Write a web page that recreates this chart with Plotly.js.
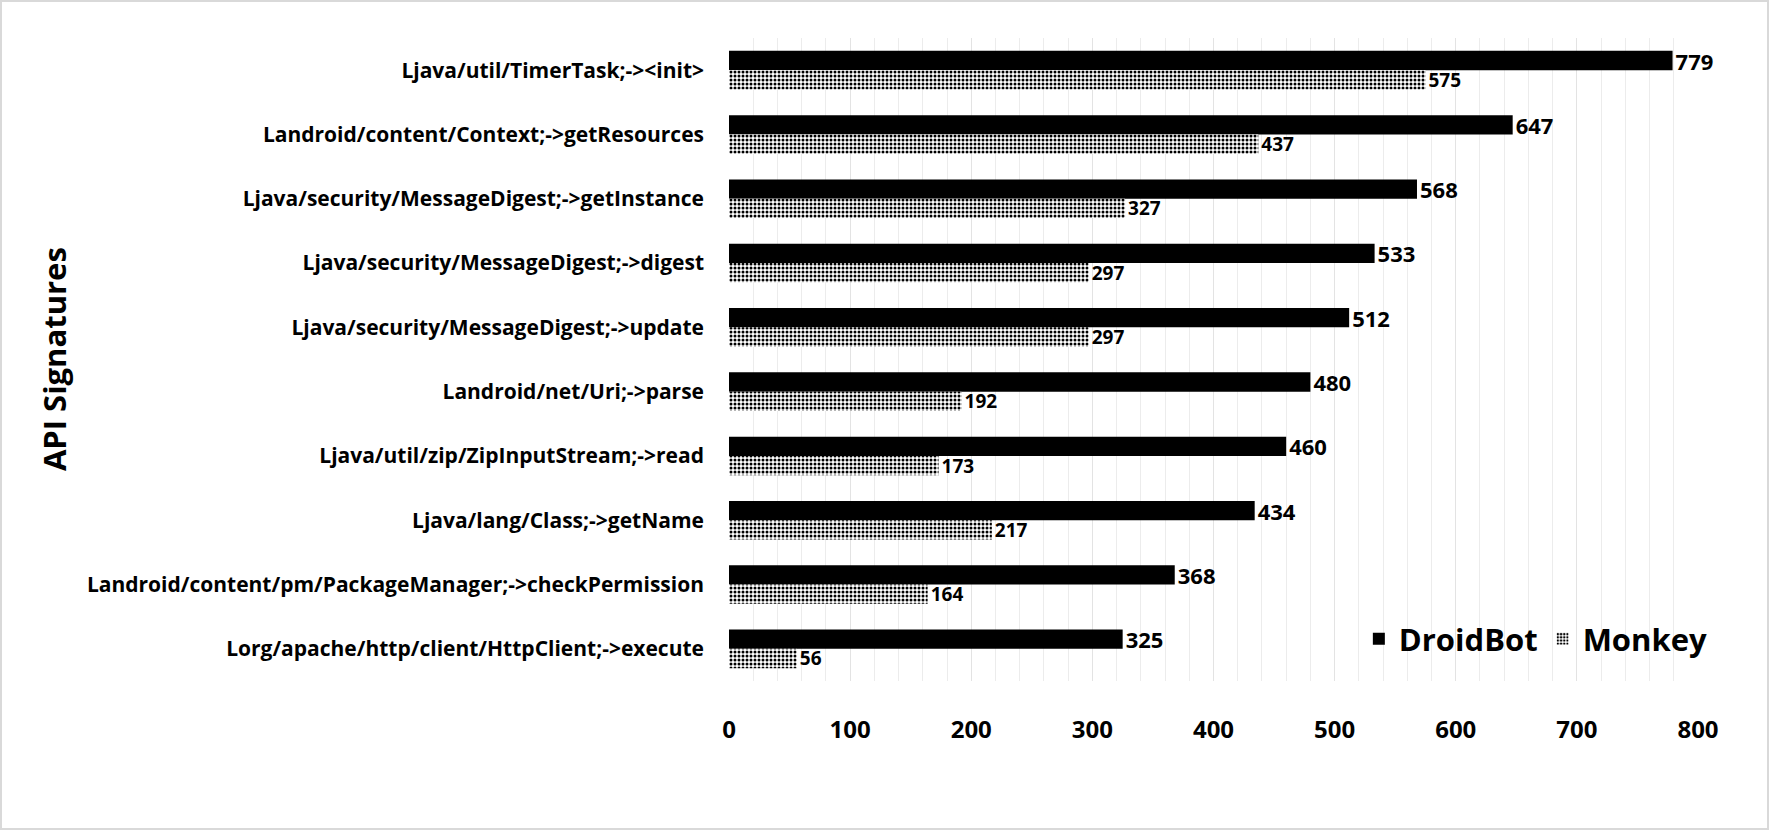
<!DOCTYPE html>
<html>
<head>
<meta charset="utf-8">
<script src="https://cdn.plot.ly/plotly-3.0.1.min.js"></script>
<style>
  html, body { margin: 0; padding: 0; background: #fff; }
  #chart { width: 1769px; height: 830px; box-sizing: border-box; border: 2px solid #d9d9d9; }
</style>
</head>
<body>
<div id="chart"></div>
<script>
const apis = [
  'Ljava/util/TimerTask;-><init>',
  'Landroid/content/Context;->getResources',
  'Ljava/security/MessageDigest;->getInstance',
  'Ljava/security/MessageDigest;->digest',
  'Ljava/security/MessageDigest;->update',
  'Landroid/net/Uri;->parse',
  'Ljava/util/zip/ZipInputStream;->read',
  'Ljava/lang/Class;->getName',
  'Landroid/content/pm/PackageManager;->checkPermission',
  'Lorg/apache/http/client/HttpClient;->execute'
];
const droidbot = [779, 647, 568, 533, 512, 480, 460, 434, 368, 325];
const monkey = [575, 437, 327, 297, 297, 192, 173, 217, 164, 56];
const xTicks = [0, 100, 200, 300, 400, 500, 600, 700, 800];

const FONT = 'Open Sans, Liberation Sans, sans-serif';

const traceDroid = {
  type: 'bar',
  orientation: 'h',
  name: 'DroidBot',
  y: apis,
  x: droidbot,
  text: droidbot.map(String),
  textposition: 'outside',
  constraintext: 'none',
  cliponaxis: false,
  textfont: { family: FONT, size: 22, color: '#000', weight: 'bold' },
  marker: { color: '#000', line: { width: 0 } },
  hoverinfo: 'x+name'
};

const traceMonkey = {
  type: 'bar',
  orientation: 'h',
  name: 'Monkey',
  y: apis,
  x: monkey,
  text: monkey.map(String),
  textposition: 'outside',
  constraintext: 'none',
  cliponaxis: false,
  textfont: { family: FONT, size: 19, color: '#000', weight: 'bold' },
  marker: {
    color: '#fff',
    line: { width: 0 },
    pattern: { shape: '.', fgcolor: '#000', bgcolor: '#fff', size: 4, solidity: 0.45 }
  },
  hoverinfo: 'x+name'
};

const layout = {
  width: 1765,
  height: 826,
  margin: { l: 727, r: 69, t: 36, b: 147 },
  paper_bgcolor: '#fff',
  plot_bgcolor: '#fff',
  barmode: 'group',
  bargap: 0.4,
  bargroupgap: 0,
  showlegend: true,
  font: { family: FONT, color: '#000' },
  xaxis: {
    range: [0, 800],
    tickvals: xTicks,
    ticktext: xTicks.map(String),
    tickfont: { family: FONT, size: 24, color: '#000', weight: 'bold' },
    ticklabelstandoff: 32,
    showgrid: true,
    gridcolor: '#e3e3e3',
    gridwidth: 1,
    minor: { dtick: 20, showgrid: true, gridcolor: '#ececec', gridwidth: 1 },
    zeroline: false,
    showline: false,
    fixedrange: true
  },
  yaxis: {
    type: 'category',
    autorange: 'reversed',
    tickfont: { family: FONT, size: 21, color: '#000', weight: 'bold' },
    ticklabelstandoff: 24,
    showgrid: false,
    zeroline: false,
    showline: false,
    fixedrange: true
  },
  legend: {
    orientation: 'h',
    x: 0.65,
    y: 0.065,
    xanchor: 'left',
    yanchor: 'middle',
    bgcolor: 'rgba(255,255,255,0)',
    font: { family: FONT, size: 31, color: '#000', weight: 'bold' },
    itemwidth: 30
  },
  annotations: [{
    text: 'API Signatures',
    xref: 'paper', yref: 'paper',
    x: -0.697, y: 0.5,
    xanchor: 'center', yanchor: 'middle',
    textangle: -90,
    showarrow: false,
    font: { family: FONT, size: 31, color: '#000', weight: 'bold' }
  }]
};

Plotly.newPlot('chart', [traceDroid, traceMonkey], layout, { displayModeBar: false, staticPlot: true });
</script>
</body>
</html>
